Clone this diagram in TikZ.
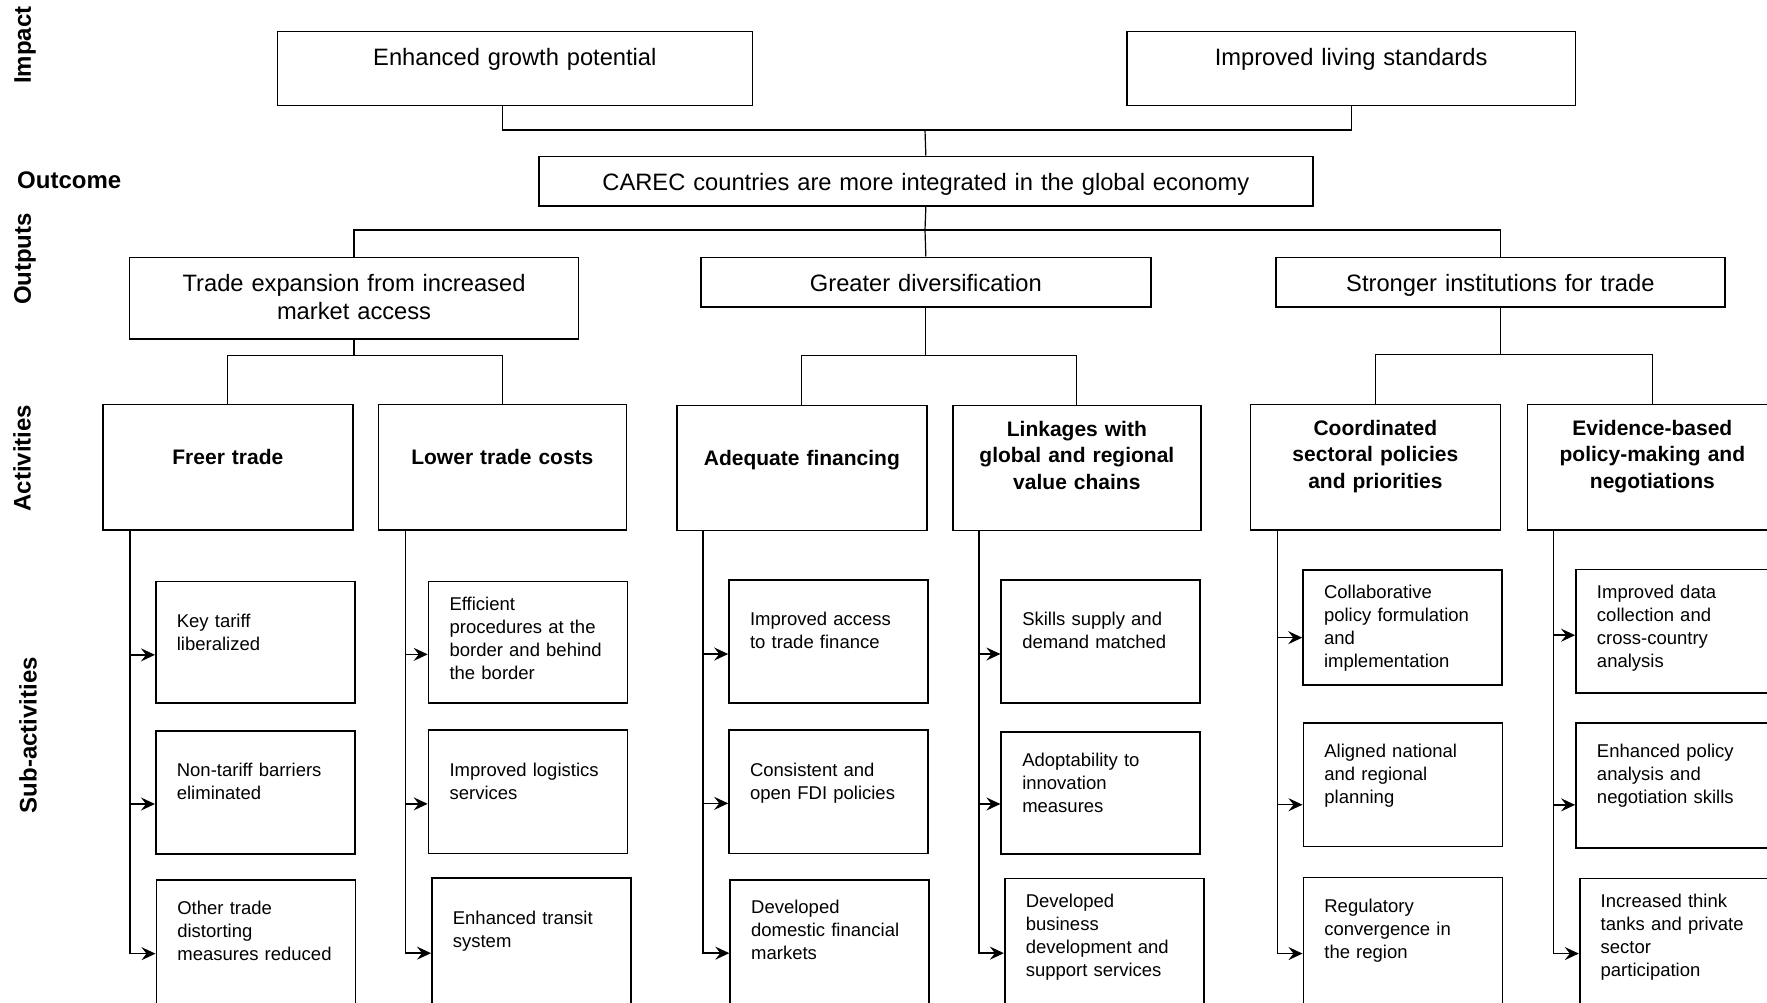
\documentclass[tikz,border=0pt]{standalone}
\usepackage{fontspec}
\setmainfont{Liberation Sans}
\usetikzlibrary{arrows.meta}

\begin{document}
\begin{tikzpicture}[x=1pt, y=-1pt,
  impbox/.style={draw, line width=1.7pt, anchor=north west, inner sep=0pt, align=center,
    text height=34pt, font=\fontsize{23.7}{28}\selectfont},
  actbox/.style={draw, line width=1.7pt, anchor=north west, inner xsep=6pt, inner ysep=0pt,
    text width=238pt, align=center, font=\bfseries\fontsize{21}{26.5}\selectfont},
  subbox/.style={draw, line width=1.7pt, anchor=north west, inner xsep=21pt, inner ysep=0pt,
    text width=157pt, align=left, font=\fontsize{18.5}{23}\selectfont},
  lbl/.style={inner sep=0pt, font=\bfseries\fontsize{24}{28}\selectfont},
  conn/.style={line width=1.2pt},
  tip/.style={line width=1.5pt, -{Stealth[length=14pt, width=13pt, inset=5pt]}}]
  \useasboundingbox (0,0) rectangle (1767,1002);
  \clip (0,0) rectangle (1767,1002);

  \node[lbl, rotate=90] (limpact) at (25,45) {Impact};
  \node[lbl, anchor=west] (loutcome) at (17,180) {Outcome};
  \node[lbl, rotate=90] (loutputs) at (25,259) {Outputs};
  \node[lbl, rotate=90] (lactivities) at (22,458) {Activities};
  \node[lbl, rotate=90] (lsubact) at (28,735) {Sub-activities};

  \node[impbox, text width=475pt, text depth=40pt] (eg) at (276.5,30.5) {Enhanced growth potential};
  \node[impbox, text width=448.5pt, text depth=40pt] (ils) at (1126,30.5) {Improved living standards};
  \node[impbox, text width=774pt, text depth=15.3pt] (carec) at (538,155.7) {CAREC countries are more integrated in the global economy};
  \node[impbox, text width=449pt, text depth=47.6pt] (out1) at (128.7,256.5) {Trade expansion from increased\\market access};
  \node[impbox, text width=450pt, text depth=15.3pt] (out2) at (700,256.5) {Greater diversification};
  \node[impbox, text width=449pt, text depth=15.3pt] (out3) at (1275,256.5) {Stronger institutions for trade};

  \node[actbox, text height=60pt, text depth=65.5pt] (a1) at (102,403.5) {Freer trade};
  \node[actbox, text height=60pt, text depth=65.5pt, text width=236pt] (a2) at (377.5,403.5) {Lower trade costs};
  \node[actbox, text height=60pt, text depth=65pt] (a3) at (676,404.5) {Adequate financing};
  \node[actbox, text height=31pt, text depth=94pt, text width=236pt] (a4) at (952,404.5) {Linkages with\\global and regional\\value chains};
  \node[actbox, text height=31pt, text depth=94.5pt] (a5) at (1249.5,403.5) {Coordinated\\sectoral policies\\and priorities};
  \node[actbox, text height=31pt, text depth=94.5pt] (a6) at (1526.5,403.5) {Evidence-based\\policy-making and\\negotiations};

  \node[subbox, text height=46pt, text depth=75.6pt] (s11) at (155,580.7) {Key tariff\\liberalized};
  \node[subbox, text height=46pt, text depth=77.3pt] (s12) at (155,730) {Non-tariff barriers\\eliminated};
  \node[subbox, text height=34pt, text depth=113pt] (s13) at (155.5,879.3) {Other trade\\distorting\\measures reduced};
  \node[subbox, text height=28.5pt, text depth=93.1pt] (s21) at (427.7,580.7) {Efficient\\procedures at the\\border and behind\\the border};
  \node[subbox, text height=46pt, text depth=77.4pt] (s22) at (427.7,729.3) {Improved logistics\\services};
  \node[subbox, text height=46pt, text depth=104pt] (s23) at (431,877.3) {Enhanced transit\\system};
  \node[subbox, text height=46pt, text depth=77.3pt] (s31) at (728.2,579) {Improved access\\to trade finance};
  \node[subbox, text height=46pt, text depth=77.4pt] (s32) at (728.2,729.3) {Consistent and\\open FDI policies};
  \node[subbox, text height=34pt, text depth=112.6pt] (s33) at (729.3,879) {Developed\\domestic financial\\markets};
  \node[subbox, text height=46pt, text depth=77.3pt] (s41) at (1000.4,579) {Skills supply and\\demand matched};
  \node[subbox, text height=34.5pt, text depth=87.8pt] (s42) at (1000.4,731) {Adoptability to\\innovation\\measures};
  \node[subbox, text height=28.5pt, text depth=120.7pt] (s43) at (1003.9,877.7) {Developed\\business\\development and\\support services};
  \node[subbox, text height=28.5pt, text depth=86.5pt] (s51) at (1302.2,569.3) {Collaborative\\policy formulation\\and\\implementation};
  \node[subbox, text height=34.5pt, text depth=89.2pt] (s52) at (1302.5,722) {Aligned national\\and regional\\planning};
  \node[subbox, text height=34.5pt, text depth=117.5pt] (s53) at (1302.5,876.7) {Regulatory\\convergence in\\the region};
  \node[subbox, text height=28.5pt, text depth=94.8pt] (s61) at (1575.1,568.7) {Improved data\\collection and\\cross-country\\analysis};
  \node[subbox, text height=34.5pt, text depth=90.5pt] (s62) at (1575.1,722) {Enhanced policy\\analysis and\\negotiation skills};
  \node[subbox, text height=28.5pt, text depth=121.5pt] (s63) at (1578.8,877.7) {Increased think\\tanks and private\\sector\\participation};

  \coordinate (jt) at (925,130);
  \draw[conn] ([xshift=-12pt]eg.south) |- (jt) -| (ils.south);
  \draw[conn] (jt) -- (carec.north);
  \coordinate (jo) at (925,230);
  \draw[conn] (carec.south) -- (jo);
  \draw[conn] (out1.north) |- (jo) -| (out3.north);
  \draw[conn] (jo) -- (out2.north);

  \draw[conn] (out1.south) -- ++(0,16) coordinate (j1);
  \draw[conn] (a1.north) |- (j1) -| (a2.north);
  \draw[conn] (out2.south) -- ++(0,48) coordinate (j2);
  \draw[conn] (a3.north) |- (j2) -| (a4.north);
  \draw[conn] (out3.south) -- ++(0,47) coordinate (j3);
  \draw[conn] (a5.north) |- (j3) -| (a6.north);

  \coordinate (t1) at ([xshift=28pt]a1.south west);
  \draw[tip] (t1) |- ([yshift=-12.5pt]s11.west);
  \draw[tip] (t1) |- ([yshift=-11.5pt]s12.west);
  \draw[tip] (t1) |- (s13.west);
  \coordinate (t2) at ([xshift=28pt]a2.south west);
  \draw[tip] (t2) |- ([yshift=-12pt]s21.west);
  \draw[tip] (t2) |- ([yshift=-12pt]s22.west);
  \draw[tip] (t2) |- (s23.west);
  \coordinate (t3) at ([xshift=27pt]a3.south west);
  \draw[tip] (t3) |- ([yshift=-12.5pt]s31.west);
  \draw[tip] (t3) |- ([yshift=-11.5pt]s32.west);
  \draw[tip] (t3) |- (s33.west);
  \coordinate (t4) at ([xshift=27pt]a4.south west);
  \draw[tip] (t4) |- ([yshift=-12.5pt]s41.west);
  \draw[tip] (t4) |- ([yshift=-11pt]s42.west);
  \draw[tip] (t4) |- (s43.west);
  \coordinate (t5) at ([xshift=28pt]a5.south west);
  \draw[tip] (t5) |- ([yshift=-10pt]s51.west);
  \draw[tip] (t5) |- ([yshift=-20pt]s52.west);
  \draw[tip] (t5) |- (s53.west);
  \coordinate (t6) at ([xshift=27pt]a6.south west);
  \draw[tip] (t6) |- ([yshift=-4pt]s61.west);
  \draw[tip] (t6) |- ([yshift=-19.5pt]s62.west);
  \draw[tip] (t6) |- (s63.west);
\end{tikzpicture}
\end{document}
